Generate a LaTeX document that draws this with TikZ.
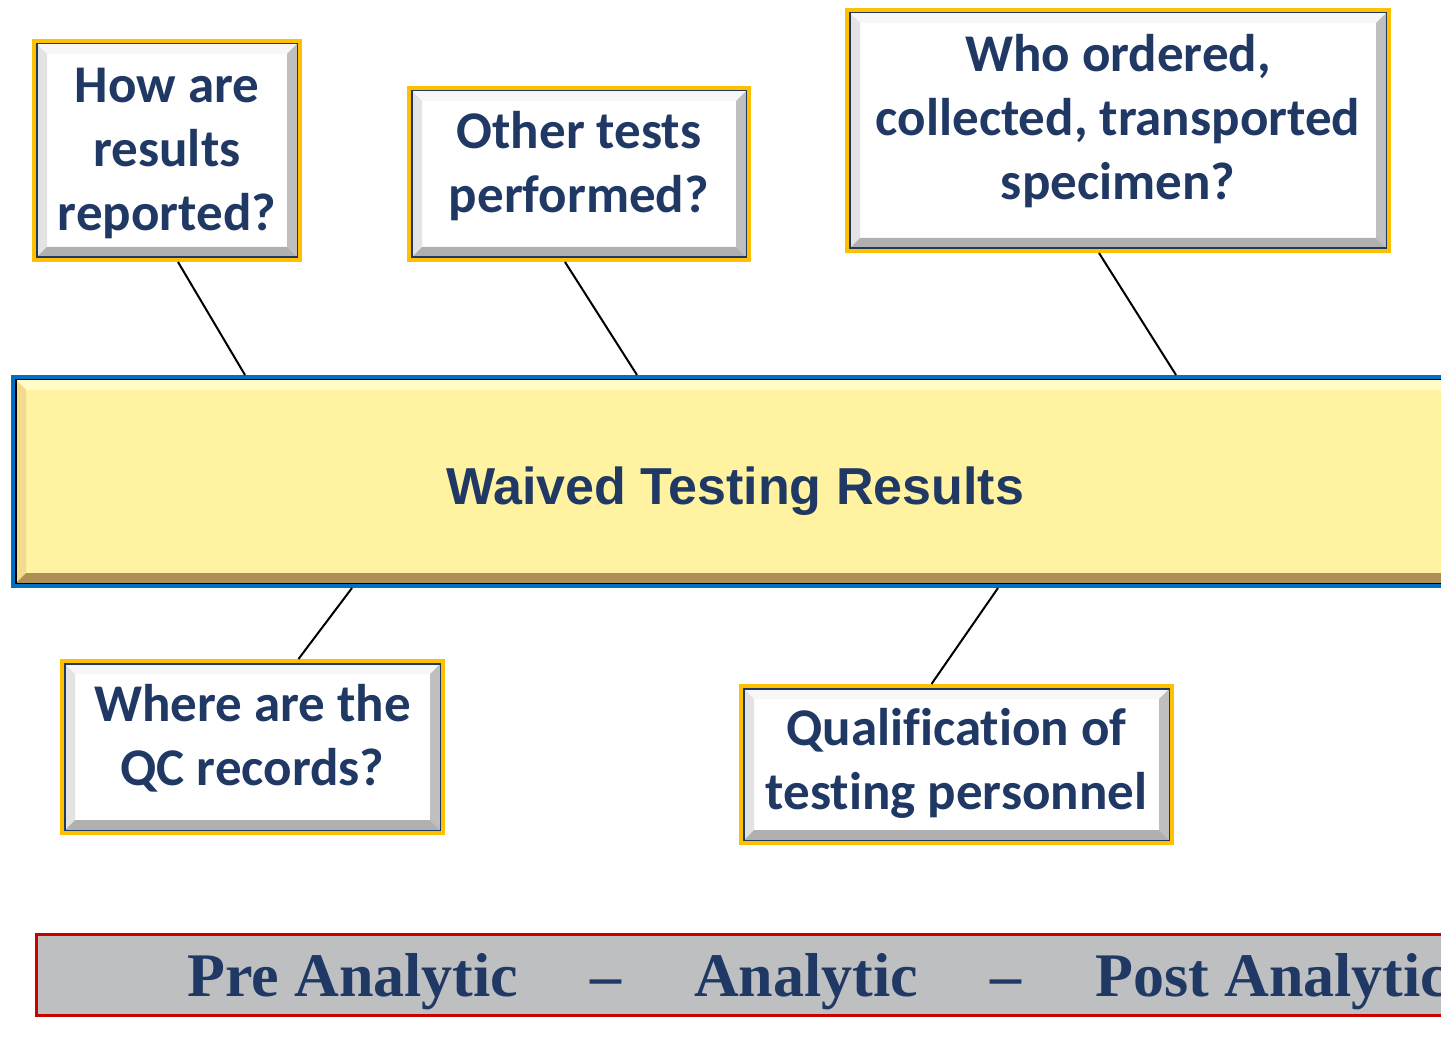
\documentclass[tikz,border=0pt]{standalone}
\usepackage{fontspec}
\newfontfamily\boxfont{Carlito}[Ligatures=NoCommon]
\newfontfamily\headfont{Liberation Sans}
\newfontfamily\phasefont{Liberation Serif}
\definecolor{navytext}{RGB}{32,56,100}
\definecolor{goldline}{RGB}{255,192,0}
\definecolor{blueline}{RGB}{0,112,192}
\definecolor{redline}{RGB}{200,0,0}
\definecolor{paleyellow}{RGB}{255,242,161}
\definecolor{bargray}{RGB}{190,191,193}
\newcommand{\ppb}{path picture bounding box}
\newcommand{\bevd}{13pt}
% bevel: top, left, right, bottom
\newcommand{\bevelsides}[4]{%
  \fill[#1] (\ppb.north west) -- (\ppb.north east) -- ([xshift=-\bevd,yshift=-\bevd]\ppb.north east) -- ([xshift=\bevd,yshift=-\bevd]\ppb.north west) -- cycle;
  \fill[#2] (\ppb.north west) -- ([xshift=\bevd,yshift=-\bevd]\ppb.north west) -- ([xshift=\bevd,yshift=\bevd]\ppb.south west) -- (\ppb.south west) -- cycle;
  \fill[#3] (\ppb.north east) -- ([xshift=-\bevd,yshift=-\bevd]\ppb.north east) -- ([xshift=-\bevd,yshift=\bevd]\ppb.south east) -- (\ppb.south east) -- cycle;
  \fill[#4] (\ppb.south west) -- ([xshift=\bevd,yshift=\bevd]\ppb.south west) -- ([xshift=-\bevd,yshift=\bevd]\ppb.south east) -- (\ppb.south east) -- cycle;
}
% lines of a box, raised by #1
\newcommand{\qlines}[2]{\raisebox{#1}[\height][\depth]{\begin{tabular}{@{}c@{}}#2\end{tabular}}}
\tikzset{
  qbox/.style={draw=goldline, line width=4pt, fill=white, text=navytext, inner sep=0pt,
    font={\boxfont\bfseries\fontsize{53}{64}\selectfont},
    path picture={\bevelsides{gray!6}{gray!22}{gray!50}{gray!62}
      \draw[navytext, line width=7pt] (\ppb.south west) rectangle (\ppb.north east);}},
  headbox/.style={draw=blueline, line width=4pt, fill=paleyellow, text=navytext, inner sep=0pt,
    font={\headfont\bfseries\fontsize{52}{62}\selectfont},
    path picture={\bevelsides{yellow!22!white}{paleyellow!80!brown}{paleyellow!85!brown}{paleyellow!45!brown!80!black}
      \draw[black, line width=7pt] (\ppb.south west) rectangle (\ppb.north east);}},
  phasebar/.style={draw=redline, line width=3pt, fill=bargray, inner sep=0pt},
  phase/.style={text=navytext, anchor=base west, inner sep=0pt, font={\phasefont\bfseries\fontsize{62}{70}\selectfont}},
  conn/.style={draw=black, line width=2pt}
}
\begin{document}
\begin{tikzpicture}[x=1pt,y=-1pt]
  \clip (0,0) rectangle (1441,1056);
  % spine
  \node[headbox, minimum width=1444, minimum height=209] (spine) at (735,481.5) {\raisebox{-10pt}[\height][\depth]{Waived Testing Results}};
  % questions above
  \node[qbox, minimum width=266, minimum height=219] (how) at (167,150.5) {\qlines{-3pt}{How are\\results\\reported?}};
  \node[qbox, minimum width=340, minimum height=172] (other) at (579,174) {\qlines{6pt}{Other tests\\performed?}};
  \node[qbox, minimum width=542, minimum height=241] (who) at (1118,130.5) {\qlines{8pt}{Who ordered,\\collected, transported\\specimen?}};
  % questions below
  \node[qbox, minimum width=381, minimum height=172] (qc) at (252.5,747) {\qlines{6pt}{Where are the\\QC records?}};
  \node[qbox, minimum width=431, minimum height=157] (staff) at (956.5,764.5) {\qlines{0pt}{Qualification of\\testing personnel}};
  % bones
  \draw[conn] ([xshift=11pt]how.south) -- ([xshift=-490pt]spine.north);
  \draw[conn] ([xshift=-14pt]other.south) -- ([xshift=-98pt]spine.north);
  \draw[conn] ([xshift=-19pt]who.south) -- ([xshift=441pt]spine.north);
  \draw[conn] ([xshift=46pt]qc.north) -- ([xshift=-383pt]spine.south);
  \draw[conn] ([xshift=-25pt]staff.north) -- ([xshift=263pt]spine.south);
  % phases
  \node[phasebar, minimum width=1500, minimum height=81, anchor=west] (bar) at (35,975) {};
  \foreach \px/\txt/\nm in {187/Pre Analytic/pre, 590/\textendash/dasha, 694/Analytic/ana, 990/\textendash/dashb, 1095/Post Analytic/post}
    \node[phase] (\nm) at (\px,996) {\txt};
\end{tikzpicture}
\end{document}
